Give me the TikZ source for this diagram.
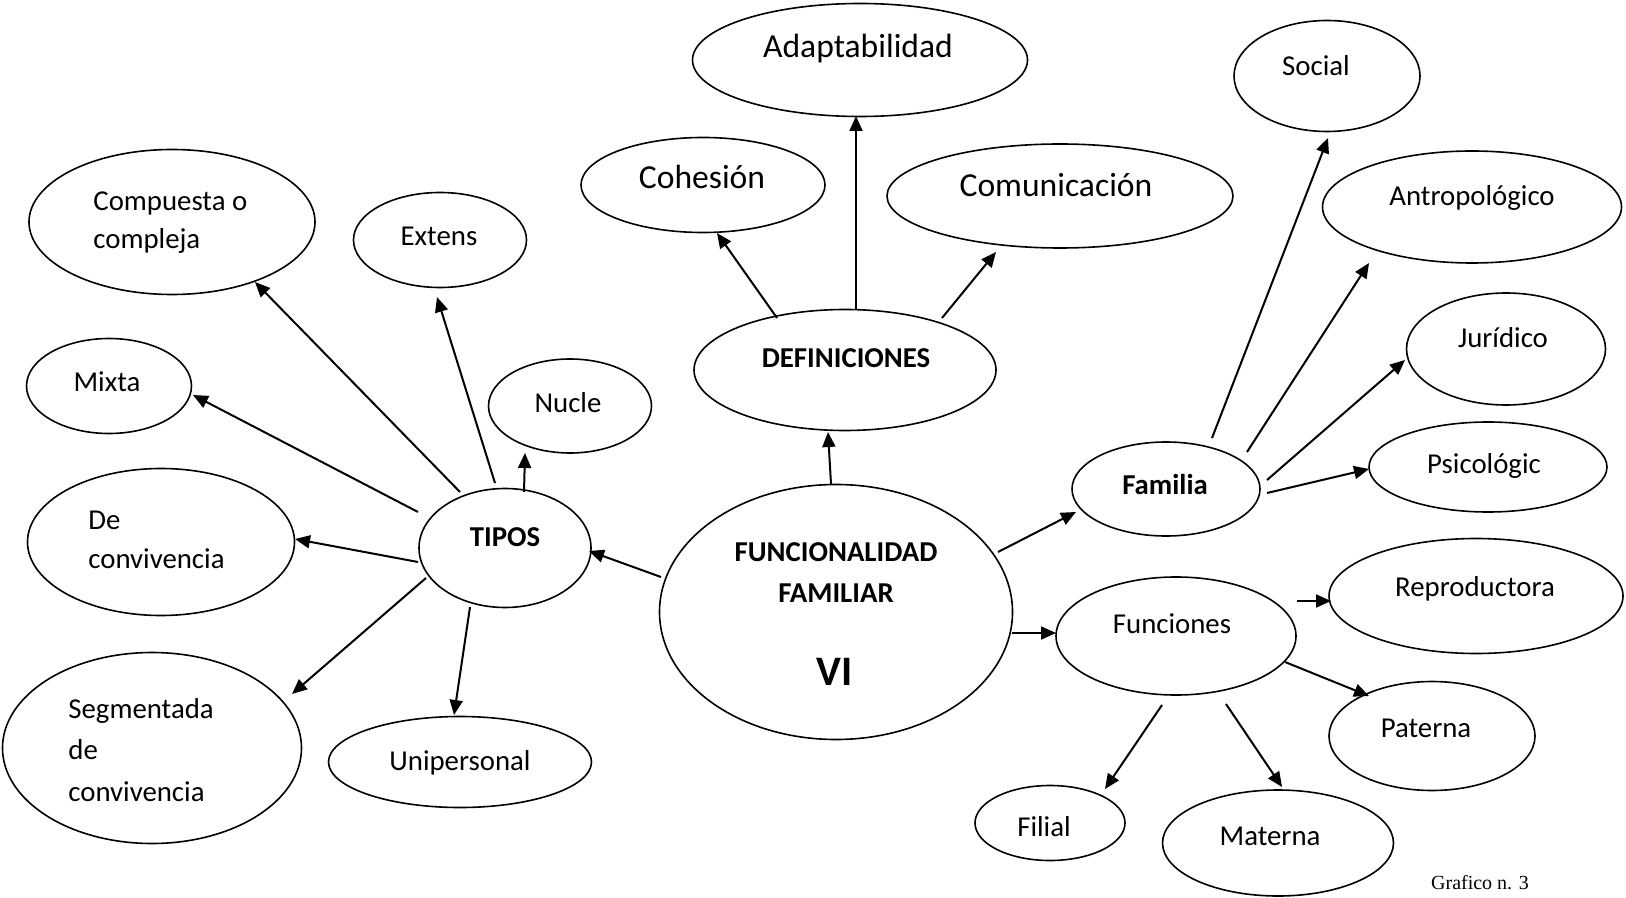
\documentclass[tikz,border=0pt]{standalone}
\usepackage{fontspec}
\setmainfont{Carlito}
\newfontfamily\capfont{Liberation Serif}
\usetikzlibrary{arrows.meta,shapes.geometric,calc}
\tikzset{
  >={Triangle[length=7.5pt,width=6.5pt]},
  bubble/.style={draw,ellipse,line width=0.8pt,inner sep=0pt},
  lbl/.style={inner sep=0pt,font=\fontsize{14.4}{19}\selectfont},
  biglbl/.style={inner sep=0pt,font=\fontsize{16.8}{20}\selectfont},
  keylbl/.style={inner sep=0pt,font=\fontsize{14.4}{20.5}\selectfont\bfseries},
  link/.style={->,line width=1pt}
}

\begin{document}
\begin{tikzpicture}[x=0.5pt,y=-0.5pt]
\useasboundingbox (0,0) rectangle (1626,898);

% central topic and its three branches
\node[bubble,minimum width=176.5pt,minimum height=127.5pt] (func) at (836,612) {};
\node[bubble,minimum width=86pt,minimum height=59.5pt] (tipos) at (505,548) {};
\node[bubble,minimum width=151pt,minimum height=60.5pt] (defs) at (845,370) {};
\node[bubble,minimum width=94pt,minimum height=47pt] (fam) at (1166,489) {};
\node[bubble,minimum width=120pt,minimum height=59pt] (fns) at (1176,636) {};

% tipos
\node[bubble,minimum width=143pt,minimum height=72.5pt] (comp) at (172,222) {};
\node[bubble,minimum width=86.5pt,minimum height=47.5pt] (ext) at (440,240) {};
\node[bubble,minimum width=82.5pt,minimum height=47.5pt] (mix) at (109,386) {};
\node[bubble,minimum width=81.5pt,minimum height=47pt] (nuc) at (570,406) {};
\node[bubble,minimum width=133.5pt,minimum height=73.5pt] (conv) at (161,542) {};
\node[bubble,minimum width=149.5pt,minimum height=95.5pt] (seg) at (152,748) {};
\node[bubble,minimum width=131.5pt,minimum height=45.5pt] (uni) at (460,762) {};

% definiciones
\node[bubble,minimum width=122pt,minimum height=47.5pt] (coh) at (703,185) {};
\node[bubble,minimum width=167.5pt,minimum height=56.5pt] (ada) at (860,60) {};
\node[bubble,minimum width=173pt,minimum height=52pt] (com) at (1060,196) {};

% familia
\node[bubble,minimum width=93pt,minimum height=55.5pt] (soc) at (1327,76) {};
\node[bubble,minimum width=149.5pt,minimum height=56pt] (ant) at (1472,207) {};
\node[bubble,minimum width=99.5pt,minimum height=56pt] (jur) at (1506,349) {};
\node[bubble,minimum width=119pt,minimum height=45pt] (psi) at (1488,467) {};

% funciones
\node[bubble,minimum width=147pt,minimum height=57.5pt] (rep) at (1476,596) {};
\node[bubble,minimum width=103pt,minimum height=54.5pt] (pat) at (1432,736) {};
\node[bubble,minimum width=75pt,minimum height=37.5pt] (fil) at (1050,823) {};
\node[bubble,minimum width=115.5pt,minimum height=53pt] (mat) at (1278,843) {};

% labels
\node[keylbl,align=center] (func-t) at (836,573) {FUNCIONALIDAD\\FAMILIAR};
\node[inner sep=0pt,font=\fontsize{21}{25}\selectfont\bfseries,anchor=base] (vi-t) at (835,685) {VI};
\node[keylbl,anchor=base] (tipos-t) at (505,546) {TIPOS};
\node[keylbl,anchor=base] (defs-t) at (846,367) {DEFINICIONES};
\node[keylbl,anchor=base] (fam-t) at (1165,494) {Familia};
\node[lbl,anchor=base] (fns-t) at (1172,633) {Funciones};

\node[lbl,align=left,anchor=west] (comp-t) at (93,223) {Compuesta o\\compleja};
\node[lbl,anchor=base] (ext-t) at (439,246) {Extens};
\node[lbl,anchor=base] (mix-t) at (107,391) {Mixta};
\node[lbl,anchor=base] (nuc-t) at (568,412) {Nucle};
\node[lbl,align=left,anchor=west,font=\fontsize{14.4}{19.5}\selectfont] (conv-t) at (88,540) {De\\convivencia};
\node[lbl,align=left,anchor=west,font=\fontsize{14.4}{20.75}\selectfont] (seg-t) at (68,750) {Segmentada\\de\\convivencia};
\node[lbl,anchor=base] (uni-t) at (460,770) {Unipersonal};

\node[biglbl,anchor=base] (coh-t) at (702,189) {Cohesión};
\node[biglbl,anchor=base] (ada-t) at (858,58) {Adaptabilidad};
\node[biglbl,anchor=base] (com-t) at (1056,197) {Comunicación};

\node[lbl,anchor=base] (soc-t) at (1316,76) {Social};
\node[lbl,anchor=base] (ant-t) at (1472,206) {Antropológico};
\node[lbl,anchor=base] (jur-t) at (1503,348) {Jurídico};
\node[lbl,anchor=base] (psi-t) at (1484,473) {Psicológic};

\node[lbl,anchor=base] (rep-t) at (1475,596) {Reproductora};
\node[lbl,anchor=base] (pat-t) at (1426,737) {Paterna};
\node[lbl,anchor=base] (fil-t) at (1044,836) {Filial};
\node[lbl,anchor=base] (mat-t) at (1270,845) {Materna};

\node[inner sep=0pt,font=\capfont\fontsize{10}{12}\selectfont,anchor=base] (graf) at (1480,889) {Grafico n. 3};

% arrows from the centre
\draw[link] ($(func)+(-175,-35)$) -- ($(tipos)+(84,3)$);
\draw[link] ($(func)+(-5,-128)$) -- ($(defs)+(-17,62)$);
\draw[link] ($(func)+(162,-60)$) -- ($(fam)+(-90,23)$);
\draw[link] ($(func)+(176,21)$) -- ($(fns)+(-120,-3)$);

% arrows from tipos
\draw[link] ($(tipos)+(-45,-56)$) -- ($(comp)+(83,60)$);
\draw[link] ($(tipos)+(-10,-65)$) -- ($(ext)+(-3,57)$);
\draw[link] ($(tipos)+(-87,-36)$) -- ($(mix)+(84,9)$);
\draw[link] ($(tipos)+(19,-56)$) -- ($(nuc)+(-45,47)$);
\draw[link] ($(tipos)+(-87,14)$) -- ($(conv)+(134,-3)$);
\draw[link] ($(tipos)+(-79,30)$) -- ($(seg)+(140,-54)$);
\draw[link] ($(tipos)+(-35,59)$) -- ($(uni)+(-6,-47)$);

% arrows from definiciones
\draw[link] ($(defs)+(-68,-52)$) -- ($(coh)+(14,48)$);
\draw[link] ($(defs)+(11,-61)$) -- ($(ada)+(-4,56)$);
\draw[link] ($(defs)+(97,-52)$) -- ($(com)+(-64,56)$);

% arrows from familia
\draw[link] ($(fam)+(46,-51)$) -- ($(soc)+(1,62)$);
\draw[link] ($(fam)+(81,-37)$) -- ($(ant)+(-103,56)$);
\draw[link] ($(fam)+(101,-9)$) -- ($(jur)+(-101,11)$);
\draw[link] ($(fam)+(101,4)$) -- ($(psi)+(-119,2)$);

% arrows from funciones
\draw[link] ($(fns)+(121,-35)$) -- ($(rep)+(-145,5)$);
\draw[link] ($(fns)+(109,26)$) -- ($(pat)+(-63,-40)$);
\draw[link] ($(fns)+(-14,69)$) -- ($(fil)+(55,-34)$);
\draw[link] ($(fns)+(50,68)$) -- ($(mat)+(4,-56)$);
\end{tikzpicture}
\end{document}
